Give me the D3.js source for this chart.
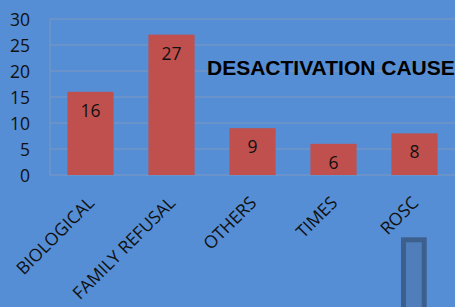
<!DOCTYPE html>
<html><head><meta charset="utf-8">
<script src="https://cdn.jsdelivr.net/npm/d3@7"></script>
<style>html,body{margin:0;padding:0;overflow:hidden;background:#558ED5;}</style>
</head><body>
<svg id="c" width="455" height="307"></svg>
<script>
const categories = ["BIOLOGICAL", "FAMILY REFUSAL", "OTHERS", "TIMES", "ROSC"];
const values = [16, 27, 9, 6, 8];
const yTicks = [0, 5, 10, 15, 20, 25, 30];
const title = "DESACTIVATION CAUSE";

const svg = d3.select("#c");
const W = 455, H = 307;
const font = "'Open Sans', 'Liberation Sans', sans-serif";
svg.append("rect").attr("width", W).attr("height", H).attr("fill", "#558ED5");

const x = d3.scaleBand().domain(categories).range([50, 455]).paddingInner(0.43).paddingOuter(0.215);
const y = d3.scaleLinear().domain([0, 30]).range([175, 19]);

// gridlines
svg.append("g").selectAll("line").data(yTicks).join("line")
  .attr("x1", 50).attr("x2", W).attr("y1", d => y(d)).attr("y2", d => y(d))
  .attr("stroke", "#7F98BE").attr("stroke-width", 1);
svg.append("line").attr("x1", 50).attr("x2", 50).attr("y1", y(30)).attr("y2", y(0))
  .attr("stroke", "#7F98BE").attr("stroke-width", 1);

// y axis labels
const yAxis = d3.axisLeft(y).tickValues(yTicks).tickSize(0).tickPadding(0);
const ga = svg.append("g").attr("transform", "translate(30,0)").call(yAxis);
ga.select(".domain").remove();
ga.selectAll("text").attr("font-family", font).attr("font-size", 17.5).attr("fill", "#111").attr("dy", "0.36em");

// bars
svg.append("g").selectAll("rect").data(values).join("rect")
  .attr("x", (d, i) => x(categories[i])).attr("width", x.bandwidth())
  .attr("y", d => y(d)).attr("height", d => y(0) - y(d))
  .attr("fill", "#C0504D");

// data labels
svg.append("g").selectAll("text").data(values).join("text")
  .attr("x", (d, i) => x(categories[i]) + x.bandwidth() / 2)
  .attr("y", d => y(d) + 25)
  .attr("text-anchor", "middle").attr("font-family", font).attr("font-size", 17.5).attr("fill", "#111")
  .text(d => d);

// category labels
svg.append("g").selectAll("text").data(categories).join("text")
  .attr("transform", d => `translate(${x(d) + x.bandwidth() / 2 + 5},204) rotate(-45)`)
  .attr("text-anchor", "end").attr("font-family", font).attr("font-size", 17.5).attr("fill", "#111")
  .text(d => d);

// title
svg.append("text").attr("x", 207).attr("y", 75).attr("font-family", "'Liberation Sans', Arial, sans-serif")
  .attr("font-weight", "bold").attr("font-size", 21).attr("fill", "#000").text(title);

// decorative rectangle bottom right
svg.append("rect").attr("x", 403.5).attr("y", 239.8).attr("width", 20.7).attr("height", 80)
  .attr("fill", "#4F7EBB").attr("stroke", "#3D5F8E").attr("stroke-width", 5);
</script>
</body></html>
